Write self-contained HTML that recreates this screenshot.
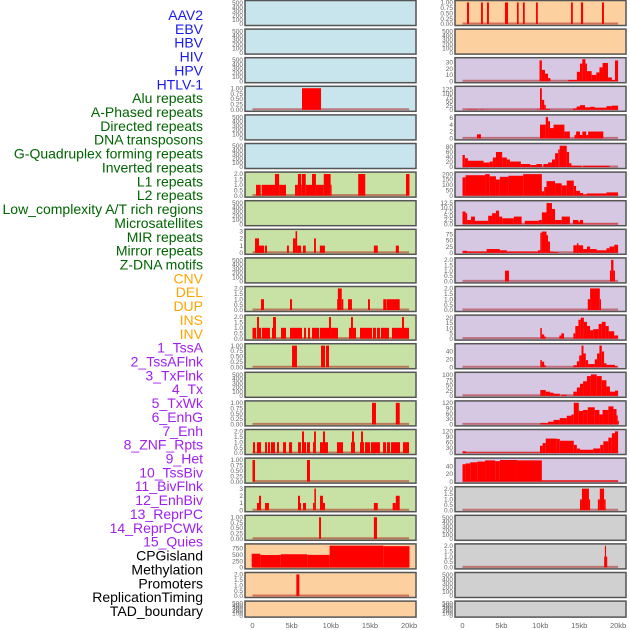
<!DOCTYPE html>
<html><head><meta charset="utf-8">
<style>
html,body{margin:0;padding:0;background:#fff;}
svg{display:block;font-family:"Liberation Sans",sans-serif;}
</style></head>
<body>
<svg id="chart" width="630" height="630" viewBox="0 0 630 630"></svg>
<script>
// ---------- labels ----------
const trackLabels = ["AAV2","EBV","HBV","HIV","HPV","HTLV-1","Alu repeats","A-Phased repeats","Directed repeats","DNA transposons","G-Quadruplex forming repeats","Inverted repeats","L1 repeats","L2 repeats","Low_complexity A/T rich regions","Microsatellites","MIR repeats","Mirror repeats","Z-DNA motifs","CNV","DEL","DUP","INS","INV","1_TssA","2_TssAFlnk","3_TxFlnk","4_Tx","5_TxWk","6_EnhG","7_Enh","8_ZNF_Rpts","9_Het","10_TssBiv","11_BivFlnk","12_EnhBiv","13_ReprPC","14_ReprPCWk","15_Quies","CPGisland","Methylation","Promoters","ReplicationTiming","TAD_boundary"];
const labelGroups = ["v","v","v","v","v","v","r","r","r","r","r","r","r","r","r","r","r","r","r","s","s","s","s","s","c","c","c","c","c","c","c","c","c","c","c","c","c","c","c","o","o","o","o","o"];
const xTickValues = [0,5,10,15,20];
const xTickLabels = ["0","5kb","10kb","15kb","20kb"];

// ---------- left column data: [startKb, endKb, value] ----------
const L03 = [[6.32,8.75,1]];
const L06 = [[0.45,1.05,1],[1.17,2.87,1],[2.87,3.4,2],[3.4,4.28,1],[5.43,5.8,1],[5.8,6.2,2],[6.2,6.3,1],[6.3,6.8,2],[6.8,7.6,1],[7.6,8.1,2],[8.1,9.1,1],[9.1,9.98,2],[9.98,10.1,1],[13.5,14.4,2],[19.6,20.05,2]];
const L08 = [[0.32,0.83,2],[0.83,1.48,1],[1.6,1.85,1],[4.4,4.65,1],[5.17,5.5,2],[5.5,5.7,3],[5.7,6.2,1],[6.45,6.8,1],[7.86,8.1,2],[8.6,9.25,1],[15.5,16.0,1],[18.3,18.7,1]];
const L10 = [[1.08,1.47,1],[4.79,5.05,1],[10.8,10.9,1],[10.9,11.4,2],[11.4,11.6,1],[12.2,12.7,1],[14.75,15.0,1],[16.7,17.05,1],[17.1,18.8,1]];
const L11 = [[0,0.46,1],[0.58,0.83,2],[0.83,1.09,1],[1.21,2.23,1],[2.49,2.62,1],[2.62,3.0,2],[3.64,4.28,1],[4.79,6.32,1],[6.58,6.84,1],[7.09,7.34,1],[7.6,8.5,1],[8.62,9.77,1],[9.77,10.02,2],[10.02,10.92,1],[12.32,12.58,1],[12.58,12.83,2],[12.83,13.22,1],[13.73,15.26,1],[15.39,15.77,1],[15.9,16.28,1],[16.41,17.43,1],[17.81,19.09,1],[19.09,19.35,2],[19.35,19.99,1]];
const L12 = [[5.05,5.68,1],[8.75,9.26,1],[9.39,9.77,1]];
const L14 = [[15.26,15.77,1],[18.3,18.8,1]];
const L15 = [[0.06,0.32,1],[0.57,1.09,1],[1.6,1.85,1],[1.98,2.23,1],[2.36,2.87,1],[3.13,3.38,1],[3.9,4.28,1],[4.66,5.05,1],[5.81,6.19,1],[6.32,6.58,2],[6.58,6.84,1],[6.96,7.34,1],[7.73,7.86,1],[7.86,8.1,2],[8.62,9.0,1],[9.0,9.26,2],[9.26,9.64,1],[10.79,11.56,1],[12.58,12.71,1],[12.71,12.96,2],[12.96,13.09,1],[13.73,13.86,1],[13.86,14.11,2],[14.11,14.24,1],[14.37,15.01,1],[15.13,16.28,1],[16.67,17.05,1],[17.18,17.56,1],[17.69,18.84,1],[19.22,19.99,1]];
const L16 = [[0,0.32,1],[6.96,7.34,1]];
const L17 = [[0.57,0.83,1],[0.83,1.09,2],[1.6,2.1,1],[5.81,6.07,2],[6.07,6.2,1],[6.45,6.84,1],[7.73,7.9,1],[7.9,8.1,3],[8.62,9.0,2],[9.0,9.26,1],[15.5,16.0,1],[17.9,18.3,1],[18.3,18.8,2]];
const L18 = [[8.5,8.75,1],[15.5,15.9,1]];
const L19 = [[-0.1,1.0,540],[1.0,3.6,490],[3.6,7.0,520],[7.0,9.85,495],[9.85,16.7,860],[16.7,20.05,840]];
const L20 = [[5.6,5.98,2]];

// ---------- right column data ----------
const R00 = [[0.58,0.84,1],[2.38,2.62,1],[3.15,3.4,1],[5.46,5.85,1],[7.0,7.22,1],[7.77,8.0,1],[9.45,9.68,1],[13.95,14.18,1],[15.23,15.5,1],[17.93,18.18,1]];
const R02 = [[9.9,10.2,33],[10.2,10.6,18],[10.6,11.0,12],[11.0,11.3,5],[13.6,14.7,2],[14.7,15.1,15],[15.1,15.4,28],[15.4,15.8,35],[15.8,16.0,28],[16.0,16.6,16],[16.6,17.2,10],[17.2,17.6,14],[17.6,18.0,22],[18.0,18.7,29],[18.7,19.2,6],[19.2,19.6,2],[19.6,20.0,33]];
const R03 = [[0.63,1.92,2],[2.3,2.7,2],[9.57,9.96,2],[9.96,10.2,130],[10.2,10.5,60],[10.5,10.7,30],[10.7,11.25,5],[14.2,14.67,8],[14.67,15.1,20],[15.1,15.75,28],[15.75,16.4,15],[16.4,17.0,18],[17.0,18.5,13],[18.5,19.17,22],[19.17,20.0,25]];
const R04 = [[1.86,2.37,1.2],[9.96,10.7,4],[10.7,11.0,6.2],[11.0,11.25,5],[11.25,11.7,3],[11.7,13.1,4],[13.1,13.8,2],[14.4,14.6,1],[14.6,15.1,2],[15.1,15.4,1],[15.4,15.9,2],[15.9,16.15,1],[16.15,18.1,2]];
const R05 = [[0,0.3,48],[0.3,0.7,35],[0.7,2.7,25],[2.7,3.5,18],[3.5,3.9,22],[3.9,4.3,38],[4.3,5.1,60],[5.1,5.7,38],[5.7,6.1,30],[6.1,7.5,22],[7.5,8.7,12],[8.7,9.5,8],[9.5,10.2,12],[10.4,11.0,12],[11.0,11.5,18],[11.5,11.9,30],[11.9,12.3,55],[12.3,12.5,70],[12.5,13.4,85],[13.4,13.7,60],[13.7,14.0,15],[14.0,15.3,5],[15.5,18.9,5]];
const R06 = [[0,0.4,170],[0.4,2.9,190],[2.9,3.5,200],[3.5,4.3,180],[4.3,4.8,150],[4.8,5.9,175],[5.9,7.8,185],[7.8,10.2,200],[10.2,10.5,40],[10.5,10.8,80],[10.8,11.9,135],[11.9,12.75,115],[12.75,13.4,95],[13.4,14.3,140],[14.3,14.6,90],[14.6,15.1,45],[15.1,15.5,25],[15.5,15.95,10],[15.95,18.5,20],[18.5,20.0,30]];
const R07 = [[0,0.4,7.5],[0.4,0.6,6.5],[0.6,1.1,2.5],[1.1,1.6,4.5],[1.6,3.3,2],[3.3,3.8,5],[3.8,4.3,6.5],[4.3,4.7,8],[4.7,5.1,4.5],[5.1,6.6,3.5],[6.6,7.6,4.5],[8.0,9.8,2],[9.8,10.2,2.5],[10.2,10.8,7],[10.8,11.5,12.5],[11.5,11.9,9],[11.9,12.75,2.5],[12.75,13.8,4.5],[14.2,14.9,2.5],[14.9,15.1,1.5],[15.1,15.5,2.5],[15.5,20.0,0.3]];
const R08 = [[0,0.6,8],[0.6,3.1,5],[3.1,4.8,15],[4.8,5.7,10],[5.7,9.7,5],[9.7,10.0,10],[10.0,10.2,80],[10.2,10.8,85],[10.8,11.0,70],[11.0,11.25,45],[11.25,11.7,5],[11.7,12.3,3],[14.25,14.7,30],[14.7,14.9,38],[14.9,15.5,30],[15.5,16.0,15],[16.0,16.4,25],[16.4,17.25,15],[17.25,18.5,10],[18.5,18.9,18],[18.9,19.5,25],[19.5,20.0,32]];
const R09 = [[5.46,5.97,1],[18.95,19.1,1],[19.1,19.4,2],[19.4,19.6,1]];
const R10 = [[16.1,16.4,1],[16.4,17.65,2],[17.65,17.8,1]];
const R11 = [[10.0,10.2,10],[10.2,10.5,4],[10.5,10.7,2],[12.45,12.7,3],[12.7,13.05,5],[14.25,14.5,5],[14.5,14.9,12],[14.9,15.2,18],[15.2,15.6,20],[15.6,16.0,16],[16.0,16.4,12],[16.4,16.8,8],[16.8,17.5,9],[17.5,17.9,14],[17.9,18.4,16],[18.4,18.8,12],[18.8,19.5,7],[19.5,20.0,3]];
const R12 = [[10.0,10.2,18],[10.2,10.5,14],[10.5,10.7,5],[14.25,14.7,5],[14.7,15.0,15],[15.0,15.3,30],[15.3,15.55,55],[15.55,15.85,35],[15.85,16.15,18],[16.15,17.0,8],[17.0,17.3,20],[17.3,17.6,35],[17.6,17.9,55],[17.9,18.2,40],[18.2,18.5,10],[18.5,19.6,6],[19.6,19.9,3]];
const R13 = [[10.0,10.7,28],[10.7,11.25,20],[11.25,11.7,15],[11.7,12.5,10],[12.7,13.4,5],[14.25,14.7,20],[14.7,15.1,40],[15.1,15.5,58],[15.5,16.0,70],[16.0,16.5,95],[16.5,17.25,103],[17.25,17.9,95],[17.9,18.5,75],[18.5,18.95,45],[18.95,19.6,20],[19.6,20.0,25]];
const R14 = [[10.0,11.0,8],[11.0,11.7,15],[11.7,12.5,25],[12.5,13.4,35],[13.4,14.0,48],[14.0,14.3,55],[14.3,14.95,120],[14.95,15.5,75],[15.5,16.1,80],[16.1,17.0,95],[17.0,17.6,80],[17.6,18.0,55],[18.0,18.75,80],[18.75,19.4,100],[19.4,19.8,85],[19.8,19.95,50],[19.95,20.1,20]];
const R15 = [[0,0.4,10],[0.4,9.96,3],[9.96,10.3,40],[10.3,10.7,55],[10.7,12.1,80],[12.1,12.5,78],[12.5,14.3,68],[14.3,14.7,45],[14.7,15.1,25],[15.1,16.8,18],[16.8,17.7,25],[17.7,18.1,45],[18.1,18.75,65],[18.75,19.2,85],[19.2,19.6,110],[19.6,20.0,120]];
const R16 = [[0,0.4,45],[0.4,1.0,47],[1.0,1.9,50],[1.9,2.9,52],[2.9,4.2,55],[4.2,4.8,53],[4.8,7.0,56],[7.0,10.2,55],[10.2,20.0,3]];
const R17 = [[15.1,15.35,1],[15.35,16.25,2],[16.25,16.4,1],[17.4,17.65,1],[17.65,18.2,2],[18.2,18.4,1]];
const R19 = [[18.2,18.3,1],[18.3,18.45,2],[18.45,18.6,1]];

// ---------- tick label sets ----------
const tkEmpty = ["0","100","200","300","400","500"];
const tk1 = ["0.00","0.25","0.50","0.75","1.00"];
const tk2 = ["0.0","0.5","1.0","1.5","2.0"];
const tk3 = ["0","1","2","3"];

// row specs: [bg, ticks, max, data]
const leftRows = [
 ["b",tkEmpty,520,null],["b",tkEmpty,520,null],["b",tkEmpty,520,null],["b",tk1,1.02,L03],
 ["b",tkEmpty,520,null],["b",tkEmpty,520,null],["g",tk2,2.04,L06],["g",tkEmpty,520,null],
 ["g",tk3,3.05,L08],["g",tkEmpty,520,null],["g",tk2,2.04,L10],["g",tk2,2.04,L11],
 ["g",tk1,1.02,L12],["g",tkEmpty,520,null],["g",tk1,1.02,L14],["g",tk2,2.04,L15],
 ["g",tk1,1.02,L16],["g",tk3,3.05,L17],["g",tk1,1.02,L18],["p",["0","250","500","750"],870,L19],
 ["p",tk2,2.04,L20],["p",tkEmpty,520,null]
];
const rightRows = [
 ["p",tk1,1.02,R00],["p",tkEmpty,520,null],["u",["0","10","20","30"],35,R02],["u",["0","25","50","75","100","125"],133,R03],
 ["u",["0","2","4","6"],6.4,R04],["u",["0","20","40","60","80"],88,R05],["u",["0","50","100","150","200"],205,R06],["u",["0.0","2.5","5.0","7.5","10.0","12.5"],13,R07],
 ["u",["0","25","50","75"],88,R08],["u",tk2,2.04,R09],["u",tk2,2.04,R10],["u",["0","5","10","15","20"],21,R11],
 ["u",["0","20","40"],56,R12],["u",["0","25","50","75","100"],106,R13],["u",["0","30","60","90","120"],122,R14],["u",["0","30","60","90","120"],122,R15],
 ["u",["0","20","40"],57,R16],["k",tk2,2.04,R17],["k",tkEmpty,520,null],["k",tk2,2.04,R19],
 ["k",tkEmpty,520,null],["k",tkEmpty,520,null]
];

const bgColors = {b:"#c8e4ec",g:"#c8e1a5",p:"#fdd0a0",u:"#d6c8e3",k:"#d0d0d0"};
const labelColors = {v:"#1a1aee",r:"#006400",s:"#ffa500",c:"#a020f0",o:"#000000"};

const NS = "http://www.w3.org/2000/svg";
const svg = document.getElementById("chart");
function mk(tag, attrs, parent){
  const e = document.createElementNS(NS, tag);
  for (const k in attrs) e.setAttribute(k, attrs[k]);
  (parent||svg).appendChild(e);
  return e;
}

trackLabels.forEach((t,i)=>{
  const e = mk("text",{x:203,y:15+i*13.86+5,"text-anchor":"end","font-size":"14",fill:labelColors[labelGroups[i]]});
  e.textContent = t;
  
  
});

function drawColumn(rows, px0, zeroX, kbScale, colName){
  const g = mk("g",{});
  
  
  const xs = kb => zeroX + kb*kbScale;
  rows.forEach((r,i)=>{
    const top = i*28.6 + 0.5;
    const h = (i===rows.length-1) ? 16 : 25;
    const base = top + h - 1.5;
    const ys = v => base - v/r[2]*(h-3);
    const pg = mk("g",{},g);
    
    
    const bg = mk("rect",{x:px0,y:top,width:171,height:h,fill:bgColors[r[0]],stroke:"#555","stroke-width":"1.5"},pg);
    
    
    r[1].forEach(t=>{
      const v = parseFloat(t);
      const tx = mk("text",{x:px0-2,y:ys(v)+2.2,"text-anchor":"end","font-size":"6.5",fill:"#666"},pg);
      tx.textContent = t;
      
      
    });
    if (r[3]){
      const bl = mk("line",{x1:xs(0),x2:xs(20),y1:base-0.5,y2:base-0.5,stroke:"rgba(170,20,20,0.5)","stroke-width":"2"},pg);
      
      
      r[3].forEach(d=>{
        const y = Math.max(top+0.8, ys(d[2]));
        const b = mk("rect",{x:xs(d[0]),y:y,width:Math.max(0.8,xs(d[1])-xs(d[0])),height:base-y,fill:"#ff0000"},pg);
        
        
      });
    }
  });
  xTickValues.forEach((v,j)=>{
    const t = mk("text",{x:xs(v),y:628,"text-anchor":"middle","font-size":"7.5",fill:"#666"},g);
    t.textContent = xTickLabels[j];
    
    
  });
}
drawColumn(leftRows, 245, 252.5, 7.83, "left-track-column");
drawColumn(rightRows, 455, 462.5, 7.78, "right-track-column");
</script>
</body></html>
